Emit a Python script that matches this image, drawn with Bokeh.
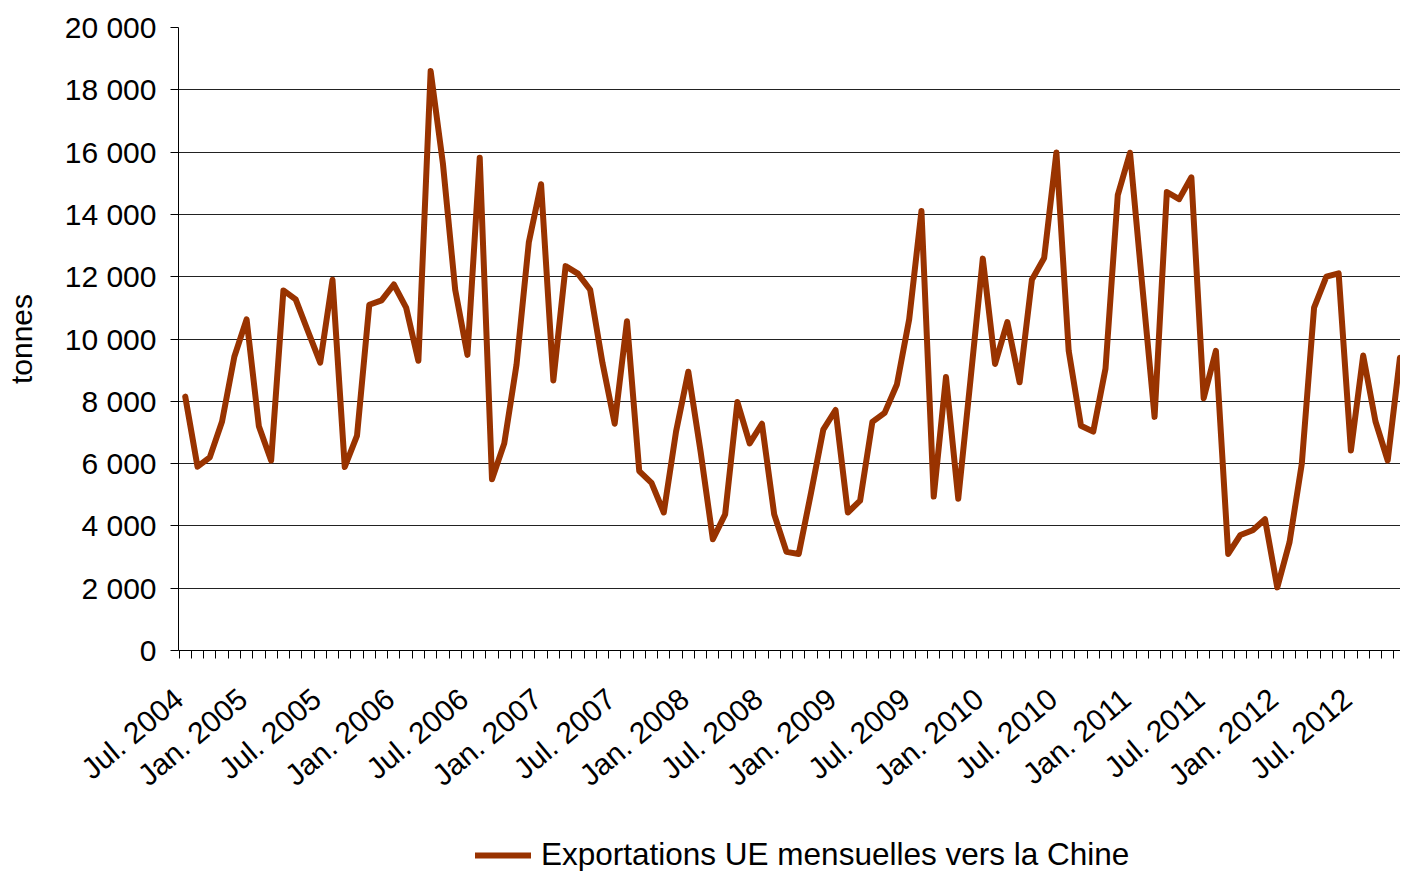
import math
from bokeh.plotting import figure
from bokeh.layouts import column
from bokeh.models import Range1d, FixedTicker, Legend, LegendItem
from bokeh.embed import file_html
from bokeh.resources import INLINE

# Monthly EU exports to China (tonnes), Jul. 2004 onwards
exports = [
    8150, 5900, 6200, 7350, 9430, 10630, 7200, 6100, 11560, 11270, 10250, 9240,
    11900, 5890, 6900, 11100, 11240, 11750, 11010, 9300, 18600, 15630, 11580, 9490,
    15820, 5500, 6650, 9180, 13100, 14970, 8670, 12340, 12100, 11580, 9240, 7280,
    10570, 5760, 5380, 4430, 7025, 8950, 6390, 3570, 4370, 7975, 6650, 7280,
    4370, 3165, 3100, 5060, 7090, 7720, 4430, 4810, 7340, 7630, 8540, 10630,
    14110, 4940, 8780, 4870, 8700, 12580, 9200, 10540, 8610, 11900, 12600, 15990,
    9620, 7215, 7025, 9050, 14620, 15980, 11700, 7500, 14720, 14490, 15190, 8100,
    9620, 3100, 3710, 3860, 4215, 2025, 3480, 6000, 11010, 12000, 12110, 6420,
    9470, 7360, 6100, 9400,
]

tick_labels = [
    "Jul. 2004", "Jan. 2005", "Jul. 2005", "Jan. 2006", "Jul. 2006", "Jan. 2007",
    "Jul. 2007", "Jan. 2008", "Jul. 2008", "Jan. 2009", "Jul. 2009", "Jan. 2010",
    "Jul. 2010", "Jan. 2011", "Jul. 2011", "Jan. 2012", "Jul. 2012",
]
label_every = 6

y_ticks = [0, 2000, 4000, 6000, 8000, 10000, 12000, 14000, 16000, 18000, 20000]
y_tick_labels = ["0", "2 000", "4 000", "6 000", "8 000", "10 000", "12 000",
                 "14 000", "16 000", "18 000", "20 000"]

series_name = "Exportations UE mensuelles vers la Chine"
y_title = "tonnes"

FONT = "Liberation Sans"
LINE_COLOR = "#993300"

x = list(range(1, len(exports) + 1))

W = 1400
H_MAIN, H_LEG = 830, 41
left, top, frame_h = 178, 27, 623
bottom = H_MAIN - top - frame_h
frame_w = W - left
step = 12.27
x0 = 0.45
x1 = x0 + frame_w / step

# rotated labels are anchored a little left of their month (ticks are hidden)
label_dx = -1.3
tick_positions = [max(1 + label_every * i + label_dx, x0 + 0.02)
                  for i in range(len(tick_labels))]

p = figure(
    width=W, height=H_MAIN, output_backend="svg", toolbar_location=None,
    x_range=Range1d(x0, x1), y_range=Range1d(0, 20000),
    min_border_left=left, min_border_right=0, min_border_top=top,
    min_border_bottom=bottom,
)
p.outline_line_color = None
p.background_fill_color = "white"
p.border_fill_color = "white"

# y axis
p.yaxis.ticker = FixedTicker(ticks=y_ticks)
p.yaxis.major_label_overrides = {t: l for t, l in zip(y_ticks, y_tick_labels)}
p.yaxis.major_label_text_font = FONT
p.yaxis.major_label_text_font_size = "30px"
p.yaxis.major_label_text_color = "black"
p.yaxis.major_tick_out = 8
p.yaxis.major_tick_in = 0
p.yaxis.minor_tick_line_color = None
p.yaxis.major_label_standoff = 14
p.yaxis.axis_line_color = "black"
p.yaxis.major_tick_line_color = "black"
p.yaxis.axis_label = y_title
p.yaxis.axis_label_text_font = FONT
p.yaxis.axis_label_text_font_size = "30px"
p.yaxis.axis_label_text_font_style = "normal"
p.yaxis.axis_label_text_color = "black"
p.yaxis.axis_label_standoff = 24

# x axis
p.xaxis.ticker = FixedTicker(ticks=tick_positions,
                             minor_ticks=[i + 0.5 for i in range(0, len(exports) + 1)])
p.xaxis.major_label_overrides = {t: l for t, l in zip(tick_positions, tick_labels)}
p.xaxis.major_label_orientation = math.radians(40)
p.xaxis.major_label_text_font = FONT
p.xaxis.major_label_text_font_size = "30px"
p.xaxis.major_label_text_color = "black"
p.xaxis.major_tick_out = 0
p.xaxis.major_tick_in = 0
p.xaxis.minor_tick_out = 8
p.xaxis.minor_tick_in = 0
p.xaxis.minor_tick_line_color = "black"
p.xaxis.axis_line_color = "black"
p.xaxis.major_label_standoff = 36

# grid
p.xgrid.grid_line_color = None
p.ygrid.ticker = FixedTicker(ticks=y_ticks)
p.ygrid.grid_line_color = "#222222"
p.ygrid.grid_line_width = 1

p.line(x, exports, line_color=LINE_COLOR, line_width=6,
       line_join="round", line_cap="round")

# legend strip below the chart (its frame is aligned with the chart frame)
pl = figure(
    width=W, height=H_LEG, output_backend="svg", toolbar_location=None,
    x_range=Range1d(-10, -9), y_range=Range1d(-10, -9),
    x_axis_location=None, y_axis_location=None, min_border=0,
)
pl.outline_line_color = None
pl.grid.visible = False
pl.background_fill_color = "white"
pl.border_fill_color = "white"
r_leg = pl.line(x, exports, line_color=LINE_COLOR, line_width=6,
                line_join="round", line_cap="round")

legend = Legend(
    items=[LegendItem(label=series_name, renderers=[r_leg])],
    location=(297, -2),
    label_text_font=FONT, label_text_font_size="31.5px", label_text_color="black",
    glyph_width=56, glyph_height=30, label_standoff=10,
    border_line_color=None, background_fill_alpha=0, padding=0, margin=0,
    label_height=30,
)
pl.add_layout(legend)

layout = column(p, pl, spacing=0)
open("out.html", "w").write(file_html(layout, INLINE))
